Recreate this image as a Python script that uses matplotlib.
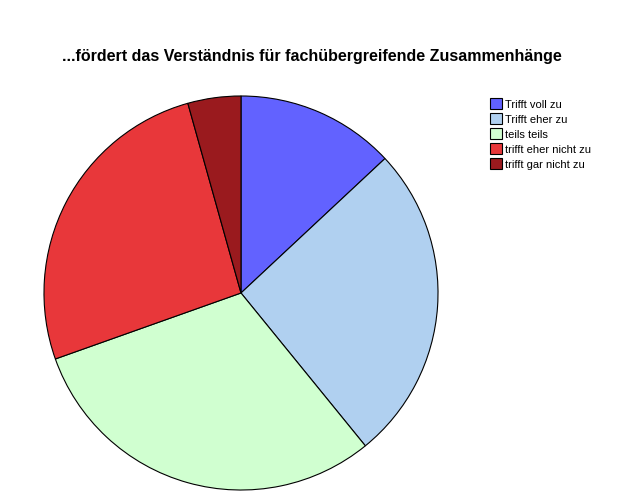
import matplotlib
matplotlib.use('Agg')
import matplotlib.pyplot as plt

labels = ['Trifft voll zu', 'Trifft eher zu', 'teils teils', 'trifft eher nicht zu', 'trifft gar nicht zu']
counts = [3, 6, 7, 6, 1]
colors = ['#6262FF', '#B0D0F0', '#D0FFD0', '#E8373A', '#9A1A1E']

plt.rcParams['font.family'] = ['Liberation Sans', 'DejaVu Sans']

fig = plt.figure(figsize=(6.24, 4.99), dpi=100)
fig.text(312 / 624, 1 - 56 / 499, '...fördert das Verständnis für fachübergreifende Zusammenhänge',
         ha='center', va='center', fontsize=11.5, fontweight='bold')

ax = fig.add_axes([43 / 624, 8 / 499, 396 / 624, 396 / 499])
wedges, _ = ax.pie(counts, colors=colors, startangle=90, counterclock=False,
                   wedgeprops=dict(edgecolor='black', linewidth=0.8))
ax.set_xlim(-1.005, 1.005)
ax.set_ylim(-1.005, 1.005)
ax.set_aspect('equal')

fig.legend(wedges, labels, loc='upper left', bbox_to_anchor=(486 / 624, 1 - 94 / 499),
           frameon=False, fontsize=8, handlelength=1.0, handleheight=1.1,
           handletextpad=0.3, labelspacing=0.35, borderaxespad=0)

fig.savefig('out.png', dpi=100)
